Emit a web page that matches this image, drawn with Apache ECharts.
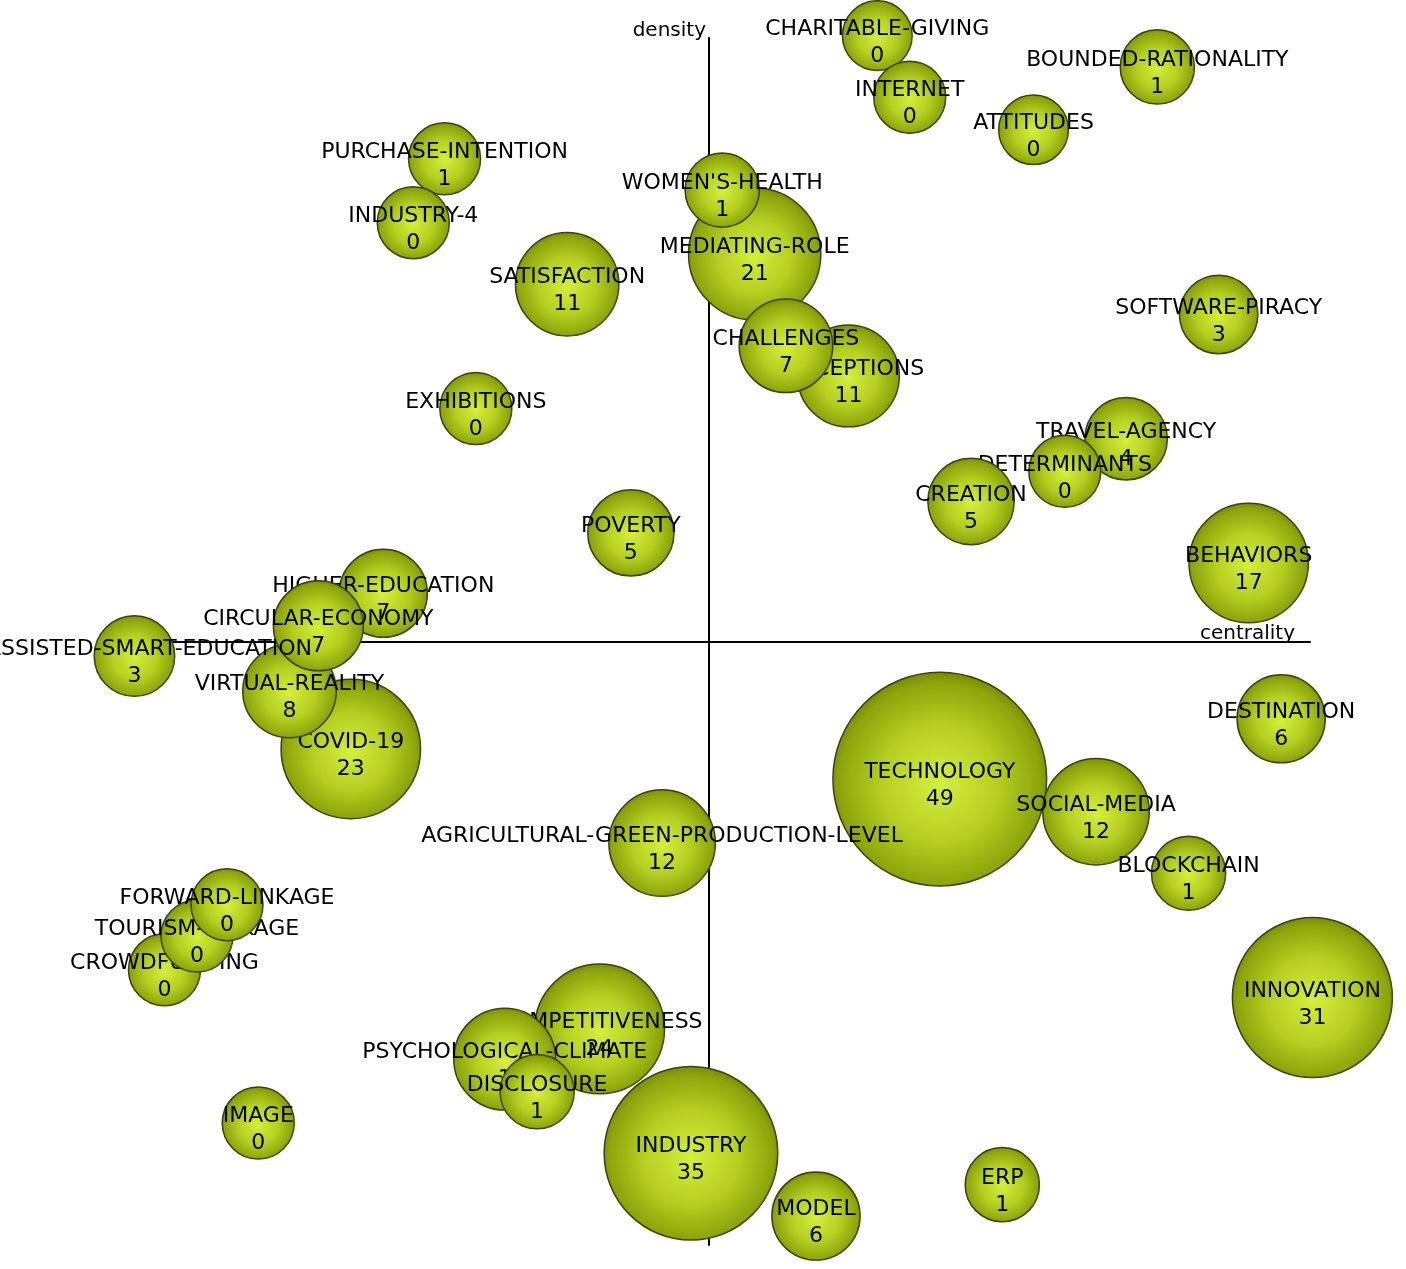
<!DOCTYPE html>
<html>
<head>
<meta charset="utf-8">
<script src="https://cdn.jsdelivr.net/npm/echarts@6/dist/echarts.min.js"></script>
<style>
html,body{margin:0;padding:0;background:#fff;}
#chart{width:1406px;height:1269px;}
</style>
</head>
<body>
<div id="chart"></div>
<script>
// Themes in drawing order (later ones are drawn on top)
const themes = [
  "CHARITABLE-GIVING","INTERNET","ATTITUDES","BOUNDED-RATIONALITY","PURCHASE-INTENTION",
  "INDUSTRY-4","MEDIATING-ROLE","WOMEN'S-HEALTH","SATISFACTION","PERCEPTIONS",
  "CHALLENGES","SOFTWARE-PIRACY","EXHIBITIONS","TRAVEL-AGENCY","DETERMINANTS",
  "CREATION","POVERTY","BEHAVIORS","HIGHER-EDUCATION","COVID-19",
  "VIRTUAL-REALITY","CIRCULAR-ECONOMY","AI-ASSISTED-SMART-EDUCATION","DESTINATION","TECHNOLOGY",
  "SOCIAL-MEDIA","AGRICULTURAL-GREEN-PRODUCTION-LEVEL","BLOCKCHAIN","CROWDFUNDING","TOURISM-LINKAGE",
  "FORWARD-LINKAGE","INNOVATION","COMPETITIVENESS","PSYCHOLOGICAL-CLIMATE","DISCLOSURE",
  "INDUSTRY","IMAGE","MODEL","ERP"
];
// centrality (x) and density (y), centred on the medians
const centrality = [
  14.0,16.7,27.0,37.3,-22.0,
  -24.6,3.8,1.1,-11.8,11.6,
  6.4,42.4,-19.4,34.7,29.6,
  21.8,-6.5,44.9,-27.1,-29.8,
  -34.9,-32.5,-47.8,47.6,19.2,
  32.2,-3.9,39.9,-45.3,-42.6,
  -40.1,50.2,-9.1,-17.0,-14.3,
  -1.5,-37.5,8.9,24.4
];
const density = [
  50.2,45.1,42.4,47.6,40.0,
  34.7,32.1,37.4,29.6,22.0,
  24.5,27.1,19.3,16.8,14.1,
  11.6,9.0,6.5,4.0,-8.9,
  -4.1,1.3,-1.2,-6.4,-11.4,
  -14.1,-16.7,-19.2,-27.2,-24.4,
  -21.8,-29.5,-32.1,-34.6,-37.3,
  -42.4,-39.9,-47.6,-45.0
];
// number shown under each theme name
const counts = [
  0,0,0,1,1,
  0,21,1,11,11,
  7,3,0,4,0,
  5,5,17,7,23,
  8,7,3,6,49,
  12,12,1,0,0,
  0,31,24,1,1,
  35,0,6,1
];
// bubble size measure (documents, estimated)
const documents = [
  15,16,15,17,16,
  16,54,17,33,32,
  27,19,16,21,16,
  23,23,44,24,60,
  27,25,20,24,141,
  35,35,17,16,16,
  16,79,52,32,17,
  93,16,24,17
];

const bubbleColor = {
  type: 'radial', x: 0.5, y: 0.52, r: 0.55,
  colorStops: [
    {offset: 0, color: '#d6ee3c'},
    {offset: 0.5, color: '#b5ce20'},
    {offset: 0.85, color: '#8da40b'},
    {offset: 1, color: '#6a7b08'}
  ]
};

const series = themes.map((name, i) => ({
  type: 'scatter',
  name: name,
  z: 2 + i,
  clip: false,
  silent: true,
  symbol: 'circle',
  symbolSize: d => 18 * Math.sqrt(d[2]),
  itemStyle: { color: bubbleColor, borderColor: '#3a4404', borderWidth: 1.5, opacity: 1 },
  label: {
    show: true,
    position: 'inside',
    offset: [0, 7],
    formatter: p => p.name + '\n' + p.value[3],
    fontFamily: 'DejaVu Sans',
    fontSize: 22,
    lineHeight: 27,
    color: '#000'
  },
  emphasis: { disabled: true },
  data: [{ name: name, value: [centrality[i], density[i], documents[i], counts[i]] }]
}));

const chart = echarts.init(document.getElementById('chart'), null, {renderer: 'canvas'});
chart.setOption({
  animation: false,
  backgroundColor: '#ffffff',
  grid: { left: 108, right: 96, top: 38, bottom: 24, containLabel: false },
  xAxis: {
    type: 'value', min: -50, max: 50,
    name: 'centrality', nameLocation: 'end', nameGap: -15,
    nameTextStyle: { fontFamily: 'DejaVu Sans', fontSize: 20, lineHeight: 16, color: '#000', align: 'right', verticalAlign: 'bottom' },
    axisLine: { show: true, onZero: true, lineStyle: { color: '#000', width: 2 } },
    axisTick: { show: false }, axisLabel: { show: false }, splitLine: { show: false }
  },
  yAxis: {
    type: 'value', min: -50, max: 50,
    name: 'density', nameLocation: 'end', nameGap: 7,
    nameTextStyle: { fontFamily: 'DejaVu Sans', fontSize: 20, color: '#000', align: 'right', verticalAlign: 'middle', padding: [0,3,0,0] },
    axisLine: { show: true, onZero: true, lineStyle: { color: '#000', width: 2 } },
    axisTick: { show: false }, axisLabel: { show: false }, splitLine: { show: false }
  },
  series: series
});
</script>
</body>
</html>
